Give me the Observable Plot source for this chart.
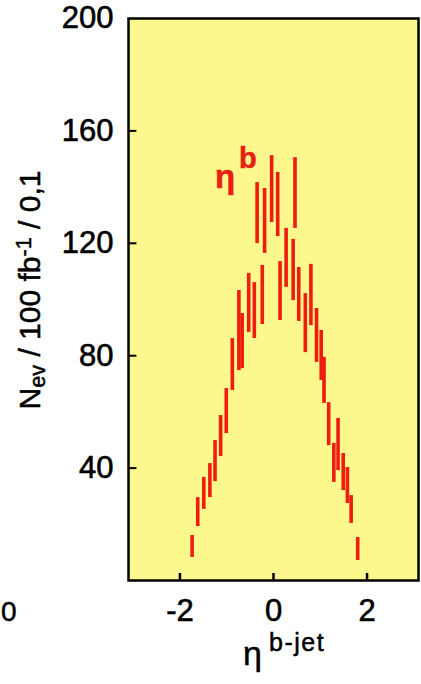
<!DOCTYPE html>
<html><head><meta charset="utf-8">
<script src="https://cdn.jsdelivr.net/npm/d3@7"></script>
<script src="https://cdn.jsdelivr.net/npm/@observablehq/plot@0.6"></script>
<style>
body{margin:0;background:#fff;}
#wrap{position:relative;width:421px;height:684px;overflow:hidden;font-family:"Liberation Sans",Arial,sans-serif;}
#wrap svg{position:absolute;left:0;top:0;}
#wrap svg text{stroke:#000;stroke-width:0.6px;}
.ov{position:absolute;white-space:nowrap;color:#000;line-height:1;-webkit-text-stroke:0.5px currentColor;}
</style></head><body>
<div id="wrap"></div>
<script>
// bin centres (eta of b-jet) and the low/high ends of each error bar (N events)
const eta   = [-1.74,-1.62,-1.49,-1.36,-1.25,-1.13,-1.01,-0.88,-0.74,-0.67,-0.53,-0.41,-0.35,-0.24,-0.19,-0.04,0.09,0.14,0.27,0.42,0.46,0.54,0.68,0.80,0.92,1.02,1.08,1.18,1.29,1.38,1.49,1.58,1.66,1.80];
const nLow  = [8.2,19.2,25.3,29.5,35.2,44.1,52.3,67.6,74.7,75.4,88.3,86.1,119.9,91.1,116.4,127.4,122.4,92.5,104.3,99.6,125.3,92.2,81.1,90.7,77.6,71.2,63.0,48.0,34.9,39.1,32.0,27.4,20.3,7.1];
const nHigh = [16.0,29.5,36.7,41.6,49.8,58.7,68.3,86.1,103.2,95.0,109.3,106.0,141.6,112.1,139.5,151.2,145.2,113.5,125.3,121.4,150.5,111.4,102.1,112.5,96.8,89.0,79.4,63.3,48.8,57.7,45.2,40.2,30.2,15.3];
const xTicks = [-2, 0, 2];
const yTicks = [40, 80, 120, 160, 200];
const xDomain = [-3.1, 3.1];
const yDomain = [0, 200];

const bars = eta.map((x, i) => ({x, lo: nLow[i], hi: nHigh[i]}));

const plot = Plot.plot({
  width: 421, height: 684,
  marginLeft: 128, marginRight: 3, marginTop: 18, marginBottom: 104,
  style: {background: "transparent", fontFamily: "'Liberation Sans', Arial, sans-serif", color: "#000"},
  x: {domain: xDomain},
  y: {domain: yDomain},
  marks: [
    Plot.frame({fill: "#fdf88e", stroke: null}),
    Plot.ruleX(bars, {x: "x", y1: "lo", y2: "hi", stroke: "#ee1d10", strokeWidth: 3.6}),
    Plot.ruleX(xTicks, {x: d => d, y1: yDomain[0], y2: yDomain[0] + 2.5, stroke: "#000", strokeWidth: 2.5}),
    Plot.ruleY(yTicks.filter(d => d < 200), {y: d => d, x1: xDomain[0], x2: xDomain[0] + 0.18, stroke: "#000", strokeWidth: 2}),
    Plot.frame({stroke: "#000", strokeWidth: 2.5}),
    Plot.axisX({ticks: xTicks, tickSize: 0, tickPadding: 18, fontSize: 31, label: null,
                tickFormat: d => (d < 0 ? "-" + Math.abs(d) : String(d))}),
    Plot.axisY({ticks: yTicks, tickSize: 0, tickPadding: 15, fontSize: 31, label: null})
  ]
});
const wrap = document.getElementById("wrap");
wrap.appendChild(plot);

function ov(html, css) {
  const d = document.createElement("div");
  d.className = "ov";
  d.innerHTML = html;
  Object.assign(d.style, css);
  wrap.appendChild(d);
}
// in-plot label
ov("&eta;", {left: "215px", top: "160px", fontSize: "33px", color: "#e8200e", fontWeight: "bold"});
ov("b", {left: "239px", top: "144px", fontSize: "29px", color: "#e8200e", fontWeight: "bold"});
// x axis title
ov("&eta;", {left: "243px", top: "636px", fontSize: "34px"});
ov("b-jet", {left: "269px", top: "630px", fontSize: "25px", letterSpacing: "1.5px"});
// y axis title (rotated)
ov("N<span style='font-size:0.72em;position:relative;top:0.25em'>ev</span> / 100 fb<span style='font-size:0.72em;position:relative;top:-0.4em'>-1</span> / 0,1",
   {left: "30px", top: "290px", fontSize: "30px", transform: "translate(-50%,-50%) rotate(-90deg)"});
// tick label of a neighbouring panel at the left edge
ov("0", {left: "1px", top: "598px", fontSize: "28px"});
</script>
</body></html>
